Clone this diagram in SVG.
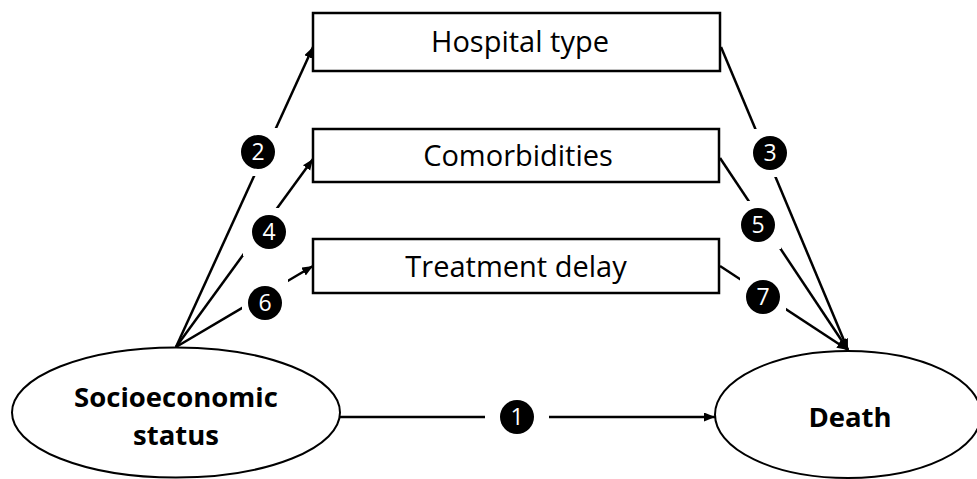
<svg xmlns="http://www.w3.org/2000/svg" width="977" height="479" viewBox="0 0 977 479">
<defs>
<marker id="arr" markerUnits="userSpaceOnUse" markerWidth="12" markerHeight="10" refX="11" refY="4.5" orient="auto">
<path d="M0,0 L11,4.5 L0,9 z" fill="#000"/>
</marker>
</defs>
<style>
.box{fill:#fff;stroke:#000;stroke-width:2.5}
.ell{fill:#fff;stroke:#000;stroke-width:2}
.lbl{font-family:"Open Sans","Liberation Sans",sans-serif;font-size:29px;text-anchor:middle;fill:#000}
.blbl{font-family:"Open Sans","Liberation Sans",sans-serif;font-size:27.5px;font-weight:bold;text-anchor:middle;fill:#000}
.edge{stroke:#000;stroke-width:2.5;fill:none}
.bg{fill:#fff}
.num{fill:#000}
.numt{font-family:"Open Sans","Liberation Sans",sans-serif;font-size:23px;text-anchor:middle;fill:#fff}
</style>
<rect width="977" height="479" fill="#fff"/>
<g id="connectors">
<line class="edge" x1="176" y1="347" x2="313" y2="47" marker-end="url(#arr)"/>
<line class="edge" x1="176" y1="347" x2="313" y2="159" marker-end="url(#arr)"/>
<line class="edge" x1="176" y1="347" x2="313" y2="266" marker-end="url(#arr)"/>
<line class="edge" x1="721" y1="47" x2="848" y2="350" marker-end="url(#arr)"/>
<line class="edge" x1="720" y1="158" x2="848" y2="350" marker-end="url(#arr)"/>
<line class="edge" x1="720" y1="266" x2="848" y2="350" marker-end="url(#arr)"/>
<line class="edge" x1="340" y1="417" x2="715" y2="417" marker-end="url(#arr)"/>
<rect class="bg" x="235" y="128" width="46" height="48"/>
<rect class="bg" x="243" y="208" width="52" height="48"/>
<rect class="bg" x="242" y="279" width="46" height="48"/>
<rect class="bg" x="747" y="129" width="46" height="48"/>
<rect class="bg" x="735" y="201" width="46" height="48"/>
<rect class="bg" x="740" y="273" width="46" height="48"/>
<rect class="bg" x="485" y="393" width="64" height="46"/>
<g id="n2"><circle class="num" cx="258" cy="152" r="17"/><text class="numt" x="258" y="160">2</text></g>
<g id="n3"><circle class="num" cx="770" cy="153" r="17"/><text class="numt" x="770" y="161">3</text></g>
<g id="n4"><circle class="num" cx="269" cy="232" r="17"/><text class="numt" x="269" y="240">4</text></g>
<g id="n5"><circle class="num" cx="758" cy="225" r="17"/><text class="numt" x="758" y="233">5</text></g>
<g id="n6"><circle class="num" cx="265" cy="303" r="17"/><text class="numt" x="265" y="311">6</text></g>
<g id="n7"><circle class="num" cx="763" cy="297" r="17"/><text class="numt" x="763" y="305">7</text></g>
<g id="n1"><circle class="num" cx="517" cy="417" r="17"/><text class="numt" x="517" y="425">1</text></g>
</g>
<g id="hospital">
<rect class="box" x="313" y="13" width="407" height="58"/>
<text class="lbl" x="520" y="52">Hospital type</text>
</g>
<g id="comorbidities">
<rect class="box" x="313" y="129" width="406" height="53"/>
<text class="lbl" x="518" y="166">Comorbidities</text>
</g>
<g id="treatment">
<rect class="box" x="313" y="239" width="406" height="54"/>
<text class="lbl" x="516" y="277">Treatment delay</text>
</g>
<g id="ses">
<ellipse class="ell" cx="176" cy="412.5" rx="164" ry="65"/>
<text class="blbl" x="176" y="407">Socioeconomic</text>
<text class="blbl" x="176" y="445">status</text>
</g>
<g id="death">
<ellipse class="ell" cx="848" cy="414.5" rx="133" ry="63.5"/>
<text class="blbl" x="850" y="427">Death</text>
</g>
</svg>
